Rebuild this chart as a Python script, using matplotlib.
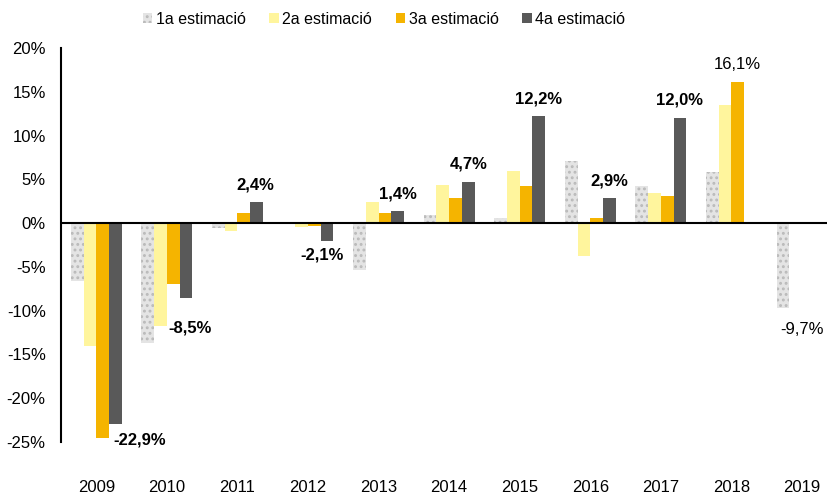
import numpy as np
import matplotlib
matplotlib.use("Agg")
import matplotlib.pyplot as plt
from matplotlib.patches import Patch

plt.rcParams['font.family'] = ['Liberation Sans', 'DejaVu Sans']
plt.rcParams['hatch.linewidth'] = 1.3

years = ["2009", "2010", "2011", "2012", "2013", "2014", "2015", "2016", "2017", "2018", "2019"]
series_names = ["1a estimació", "2a estimació", "3a estimació", "4a estimació"]
est1 = [-6.6, -13.7, -0.6, 0.1, -5.3, 0.9, 0.6, 7.1, 4.2, 5.8, -9.7]
est2 = [-14.0, -11.7, -0.9, -0.5, 2.4, 4.3, 6.0, -3.7, 3.4, 13.5, np.nan]
est3 = [-24.5, -6.9, 1.1, -0.3, 1.2, 2.9, 4.2, 0.6, 3.1, 16.1, np.nan]
est4 = [-22.9, -8.5, 2.4, -2.1, 1.4, 4.7, 12.2, 2.9, 12.0, np.nan, np.nan]
yticks = [20, 15, 10, 5, 0, -5, -10, -15, -20, -25]
ytick_labels = ["20%", "15%", "10%", "5%", "0%", "-5%", "-10%", "-15%", "-20%", "-25%"]

# labelled values: (year index, series index, text, bold, offset px)
labels = [
    (0, 3, "-22,9%", True, (24, -16)),
    (1, 3, "-8,5%", True, (4, -30)),
    (2, 3, "2,4%", True, (-1, 17)),
    (3, 3, "-2,1%", True, (-5, -14)),
    (4, 3, "1,4%", True, (0, 17)),
    (5, 3, "4,7%", True, (0, 18)),
    (6, 3, "12,2%", True, (0, 17)),
    (7, 3, "2,9%", True, (0, 17)),
    (8, 3, "12,0%", True, (0, 18)),
    (9, 2, "16,1%", False, (0, 18)),
    (10, 0, "-9,7%", False, (19, -21)),
]

fig = plt.figure(figsize=(8.27, 4.94), dpi=100)
ax = fig.add_axes([61/827, 1-442/494, 1-61/827, (442-48)/494])

x = np.arange(len(years))
w = 0.18
offsets = np.array([-1.5, -0.5, 0.5, 1.5]) * w
data = [est1, est2, est3, est4]
styles = [
    dict(facecolor="#e4e4e4", edgecolor="#bababa", hatch="...", linewidth=0),
    dict(facecolor="#FFF59D", edgecolor="none", linewidth=0),
    dict(facecolor="#F5B400", edgecolor="none", linewidth=0),
    dict(facecolor="#595959", edgecolor="none", linewidth=0),
]
for i in range(4):
    vals = np.array(data[i], dtype=float)
    ax.bar(x + offsets[i], np.nan_to_num(vals), width=w, **styles[i])

ax.axhline(0, color="black", linewidth=1.5, zorder=5)

for yi, si, txt, bold, off in labels:
    v = data[si][yi]
    ax.annotate(txt, xy=(x[yi] + offsets[si], v), xytext=off, textcoords="offset pixels",
                ha="center", va="center", fontsize=12,
                fontweight="bold" if bold else "normal", color="black")

ax.set_xlim(-0.5, -0.5 + (827-61)/70.57)
ax.set_ylim(-25, 20)
ax.set_yticks(yticks)
ax.set_yticklabels(ytick_labels)
ax.set_xticks(x)
ax.set_xticklabels(years)
ax.tick_params(axis="y", length=0, pad=11, labelsize=12)
ax.tick_params(axis="x", length=0, pad=27, labelsize=12)
for s in ["top", "right", "bottom"]:
    ax.spines[s].set_visible(False)
ax.spines["left"].set_linewidth(1.5)

handles = [Patch(**styles[i], label=series_names[i]) for i in range(4)]
fig.legend(handles=handles, loc="center", bbox_to_anchor=(384/827, 1-19/494), ncol=4,
           frameon=False, fontsize=11.5, handlelength=0.6, handleheight=0.6,
           handletextpad=0.2, columnspacing=1.5)

fig.savefig("out.png", dpi=100)
